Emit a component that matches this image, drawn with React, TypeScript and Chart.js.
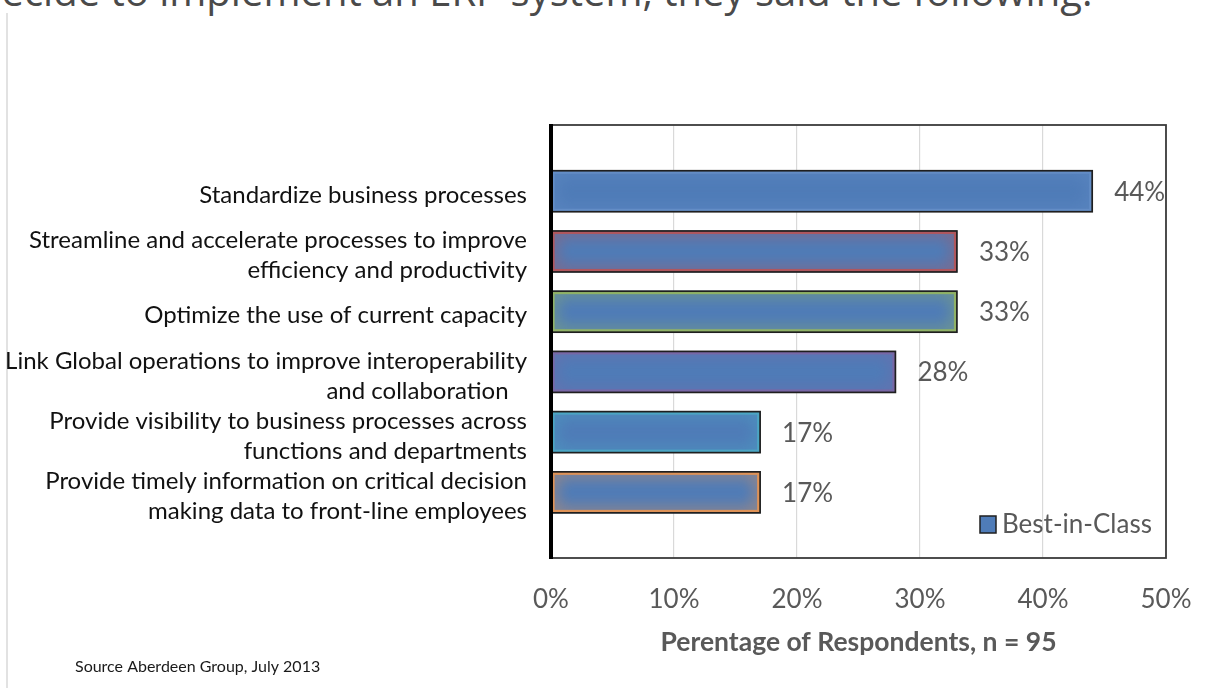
import React, { useEffect, useRef } from "react";
import { Chart, registerables } from "chart.js";

Chart.register(...registerables);

// ---------- data ----------
const categories: string[][] = [
  ["Standardize business processes"],
  ["Streamline and accelerate processes to improve", "efficiency and productivity"],
  ["Optimize the use of current capacity"],
  ["Link Global operations to improve interoperability", "and collaboration   "],
  ["Provide visibility to business processes across", "functions and departments"],
  ["Provide timely information on critical decision", "making data to front-line employees"],
];
const values: number[] = [44, 33, 33, 28, 17, 17];
const xTicks: number[] = [0, 10, 20, 30, 40, 50];
const seriesName = "Best-in-Class";
const xTitle = "Perentage of Respondents, n = 95";
const sourceNote = "Source Aberdeen Group, July 2013";
const introText = "decide to implement an ERP system, they said the following:";

// ---------- styles ----------
const barFill = "#4f7cb8";
const glowColors = ["#6690c8", "#c0504d", "#9bbb59", "#8064a2", "#4bacc6", "#f79646"];
const FONT = "Lato, 'Open Sans', sans-serif";

const decorPlugin = {
  id: "decor",
  afterDatasetsDraw(chart: any) {
    const { ctx, chartArea: a } = chart;
    const meta = chart.getDatasetMeta(0);
    const ds = chart.data.datasets[0];
    meta.data.forEach((bar: any, i: number) => {
      const p = bar.getProps(["x", "y", "base", "height"], true);
      const l = Math.min(p.base, p.x);
      const r = Math.max(p.base, p.x);
      const t = p.y - p.height / 2;
      const h = p.height;
      ctx.save();
      ctx.beginPath();
      ctx.rect(l, t, r - l, h);
      ctx.clip();
      const gc = glowColors[i % glowColors.length];
      ctx.shadowColor = gc;
      ctx.shadowBlur = 16;
      ctx.strokeStyle = gc;
      ctx.globalAlpha = 0.8;
      ctx.lineWidth = 6;
      ctx.strokeRect(l, t, r - l, h);
      ctx.restore();

      ctx.save();
      ctx.strokeStyle = "#1f1f1f";
      ctx.lineWidth = 1.7;
      ctx.strokeRect(l, t, r - l, h);
      ctx.restore();

      const v = ds.data[i].x;
      ctx.save();
      ctx.fillStyle = "#595959";
      ctx.font = `26px ${FONT}`;
      ctx.textBaseline = "middle";
      ctx.textAlign = "left";
      ctx.fillText(`${v}%`, r + 22, p.y + 1);
      ctx.restore();
    });

    // frame
    ctx.save();
    ctx.strokeStyle = "#3b3b3b";
    ctx.lineWidth = 1.8;
    ctx.strokeRect(a.left, a.top, a.right - a.left, a.bottom - a.top);
    ctx.strokeStyle = "#000";
    ctx.lineWidth = 4;
    ctx.beginPath();
    ctx.moveTo(a.left, a.top - 1);
    ctx.lineTo(a.left, a.bottom + 1);
    ctx.stroke();
    ctx.restore();

    // legend (inside plot, bottom right)
    ctx.save();
    const bx = a.right - 186;
    const by = a.bottom - 42;
    ctx.fillStyle = barFill;
    ctx.fillRect(bx, by, 16, 17);
    ctx.strokeStyle = "#1f1f1f";
    ctx.lineWidth = 1.5;
    ctx.strokeRect(bx, by, 16, 17);
    ctx.fillStyle = "#595959";
    ctx.font = `26px ${FONT}`;
    ctx.textBaseline = "middle";
    ctx.textAlign = "left";
    ctx.fillText(ds.label, bx + 22, by + 9);
    ctx.restore();

    // source note
    ctx.save();
    ctx.fillStyle = "#1a1a1a";
    ctx.font = `16px ${FONT}`;
    ctx.textBaseline = "middle";
    ctx.textAlign = "left";
    ctx.fillText(sourceNote, 75, 667);
    ctx.restore();
  },
};

export default function App() {
  const canvasRef = useRef<HTMLCanvasElement | null>(null);

  useEffect(() => {
    const canvas = canvasRef.current;
    if (!canvas) return;
    const chart = new Chart(canvas, {
      type: "bar",
      data: {
        datasets: [
          {
            label: seriesName,
            data: values.map((v, i) => ({ x: v, y: i })),
            backgroundColor: barFill,
            borderWidth: 0,
            barThickness: 41,
          } as any,
        ],
      },
      options: {
        indexAxis: "y",
        animation: false,
        responsive: false,
        devicePixelRatio: 1,
        layout: { padding: { top: 125, right: 43, bottom: 0, left: 0 } },
        plugins: {
          legend: { display: false },
          tooltip: { enabled: false },
        },
        scales: {
          x: {
            type: "linear",
            min: xTicks[0],
            max: xTicks[xTicks.length - 1],
            afterBuildTicks: (s: any) => {
              s.ticks = xTicks.map((v) => ({ value: v }));
            },
            afterFit: (s: any) => {
              s.height = 130;
              s.paddingLeft = 0;
              s.paddingRight = 0;
            },
            ticks: {
              callback: (v: any) => `${v}%`,
              color: "#595959",
              font: { family: FONT, size: 26 },
              padding: 26,
              maxRotation: 0,
            },
            grid: { color: "#d9d9d9", lineWidth: 1.2, drawTicks: false },
            border: { display: false },
            title: {
              display: true,
              text: xTitle,
              color: "#595959",
              font: { family: FONT, size: 26.5, weight: "bold" },
              padding: { top: 0, bottom: 30 },
            },
          },
          y: {
            type: "linear",
            reverse: true,
            offset: false,
            min: -1.1,
            max: 6.09,
            afterBuildTicks: (s: any) => {
              s.ticks = categories.map((_, i) => ({ value: i }));
            },
            afterFit: (s: any) => {
              s.width = 551;
            },
            ticks: {
              callback: (v: any) => categories[v] ?? "",
              color: "#111",
              font: { family: FONT, size: 24, lineHeight: 1.26 },
              padding: 16,
              labelOffset: 4,
              autoSkip: false,
            },
            grid: { display: false },
            border: { display: false },
          },
        },
      } as any,
      plugins: [decorPlugin],
    });
    return () => chart.destroy();
  }, []);

  return (
    <div
      style={{
        position: "fixed",
        left: 0,
        top: 0,
        width: 1209,
        height: 688,
        overflow: "hidden",
        background: "#fff",
      }}
    >
      <div
        style={{
          position: "absolute",
          left: -23,
          top: -37,
          fontFamily: "'Open Sans', sans-serif",
          fontSize: 40,
          color: "#4a4a4a",
          whiteSpace: "nowrap",
        }}
      >
        {introText}
      </div>
      <div
        style={{
          position: "absolute",
          left: 6,
          top: 13,
          width: 2,
          height: 675,
          background: "#e2e2e2",
        }}
      />
      <canvas
        ref={canvasRef}
        width={1209}
        height={688}
        style={{ position: "absolute", left: 0, top: 0, width: 1209, height: 688 }}
      />
    </div>
  );
}
